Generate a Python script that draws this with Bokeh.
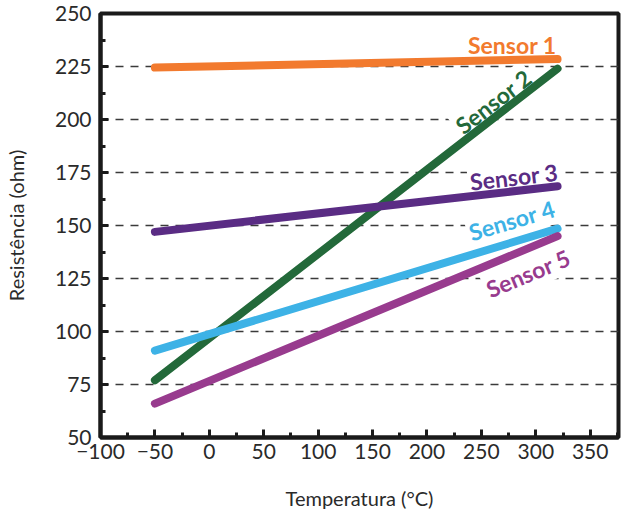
from bokeh.plotting import figure
from bokeh.models import SingleIntervalTicker, Range1d
from bokeh.core.properties import value
from bokeh.embed import file_html
from bokeh.resources import INLINE
import math

# Temperature end points (°C) and resistance (ohm) for each sensor
temps = [-50, 320]
sensor1 = [224.5, 228.5]
sensor2 = [77, 224]
sensor3 = [147, 168.5]
sensor4 = [91, 148.5]
sensor5 = [66, 145]

names = ["Sensor 1", "Sensor 2", "Sensor 3", "Sensor 4", "Sensor 5"]
series = [sensor1, sensor2, sensor3, sensor4, sensor5]
colors = ["#F27A2E", "#23693A", "#5A2C84", "#3DB2E6", "#983B8E"]

FONT = "Lato"

p = figure(width=629, height=517, output_backend="svg", toolbar_location=None,
           x_range=Range1d(-100, 376), y_range=Range1d(50, 250),
           min_border_left=100, min_border_right=11, min_border_top=13,
           min_border_bottom=80)
p.background_fill_color = "white"
p.border_fill_color = "white"
p.outline_line_color = "#1a1a1a"
p.outline_line_width = 4

# axes
p.xaxis.ticker = SingleIntervalTicker(interval=50, num_minor_ticks=2)
p.yaxis.ticker = SingleIntervalTicker(interval=25, num_minor_ticks=2)
p.xaxis.major_label_overrides = {-100: "\u2212100", -50: "\u221250"}
for ax in (p.xaxis, p.yaxis):
    ax.axis_line_width = 4
    ax.axis_line_color = "#1a1a1a"
    ax.major_tick_in = 8
    ax.major_tick_out = 0
    ax.minor_tick_in = 5
    ax.minor_tick_out = 0
    ax.major_tick_line_width = 3
    ax.minor_tick_line_width = 3
    ax.major_tick_line_color = "#1a1a1a"
    ax.minor_tick_line_color = "#1a1a1a"
    ax.major_label_text_font = FONT
    ax.major_label_text_font_size = "21px"
    ax.major_label_text_color = "#2a2a2a"
    ax.axis_label_text_font = FONT
    ax.axis_label_text_font_size = "20px"
    ax.axis_label_text_font_style = "normal"
    ax.axis_label_text_color = "#2a2a2a"

p.xaxis.axis_label = "Temperatura (°C)"
p.yaxis.axis_label = "Resistência (ohm)"
p.xaxis.major_label_standoff = 6
p.yaxis.major_label_standoff = 9
p.xaxis.axis_label_standoff = 24
p.yaxis.axis_label_standoff = 24

# grid
p.xgrid.grid_line_color = None
p.ygrid.grid_line_color = "#3a3a3a"
p.ygrid.grid_line_width = 1.5
p.ygrid.grid_line_dash = "8 7"

# inline labels (drawn first, on white boxes that mask the dashed grid):
# x, y, rotation (deg), alignment
label_pos = [
    (321, 235, 0, "right"),
    (261, 208.5, 37.5, "center"),
    (280, 173, 6.5, "center"),
    (278, 152.5, 16.5, "center"),
    (293, 127.5, 22.5, "center"),
]
for (lx, ly, ang, align), name, c in zip(label_pos, names, colors):
    p.text(x=[lx], y=[ly], text=[name], angle=math.radians(ang),
           text_align=align, text_baseline="middle",
           text_font=value(FONT), text_font_style="bold",
           text_font_size="23px", text_color=c,
           background_fill_color="white", padding=2)

# sensor lines
for vals, c in zip(series, colors):
    p.line(temps, vals, line_color=c, line_width=8, line_cap="round")

open("out.html", "w").write(file_html(p, INLINE))
